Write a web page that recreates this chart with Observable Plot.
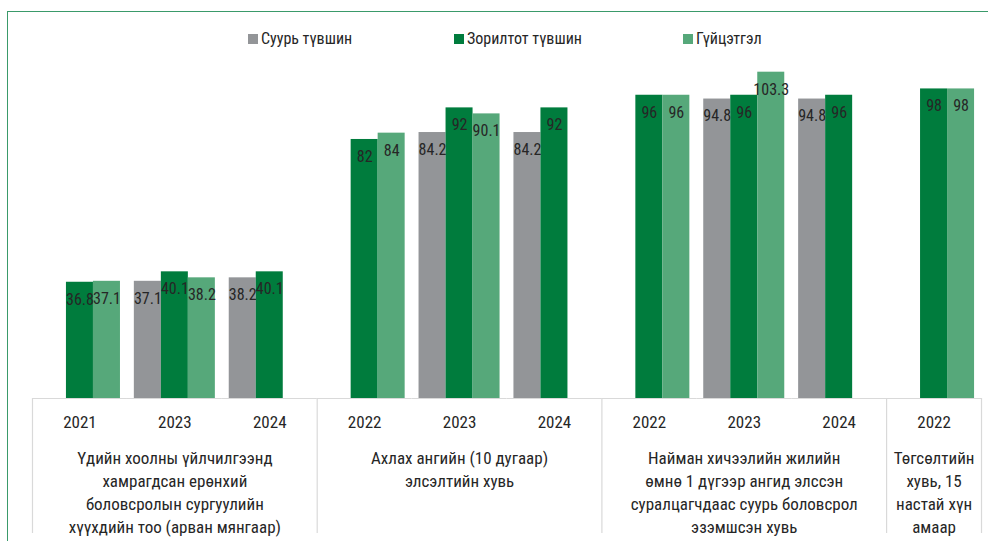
<!DOCTYPE html>
<html>
<head>
<meta charset="utf-8">
<script src="https://cdn.jsdelivr.net/npm/d3@7"></script>
<script src="https://cdn.jsdelivr.net/npm/@observablehq/plot@0.6"></script>
<style>
  html, body { margin: 0; padding: 0; background: #fff; overflow: hidden; }
  body { width: 988px; height: 541px; position: relative;
         font-family: 'Liberation Sans Narrow', 'Roboto Condensed', 'DejaVu Sans Condensed', sans-serif; color: #262626; }
  #frame { position: absolute; left: 7px; top: 11px; width: 1200px; height: 800px;
           border-top: 1.5px solid #3a9a6a; border-left: 1.5px solid #3a9a6a; pointer-events: none; }
  #legend { height: 60px; position: relative; font-size: 16px; }
  .item { position: absolute; top: 29px; display: flex; align-items: center; gap: 3px; white-space: nowrap; }
  .item:nth-child(1) { left: 248px; }
  .item:nth-child(2) { left: 454px; }
  .item:nth-child(3) { left: 683px; }
  .sw { width: 10px; height: 10px; display: inline-block; }
</style>
</head>
<body>
<div id="legend"></div>
<div id="chart"></div>
<div id="frame"></div>
<script>
// ---- data ----
const series = ["Суурь түвшин", "Зорилтот түвшин", "Гүйцэтгэл"];
const seriesColors = ["#939598", "#007c3d", "#56a87a"];
const slots = ["1-2021", "1-2023", "1-2024", "2-2022", "2-2023", "2-2024", "3-2022", "3-2023", "3-2024", "4-2022"];
const slotYears = ["2021", "2023", "2024", "2022", "2023", "2024", "2022", "2023", "2024", "2022"];
const baseValues = [null, 37.1, 38.2, null, 84.2, 84.2, null, 94.8, 94.8, null];
const targetValues = [36.8, 40.1, 40.1, 82, 92, 92, 96, 96, 96, 98];
const actualValues = [37.1, 38.2, null, 84, 90.1, null, 96, 103.3, null, 98];
const groupLabels = [
  "Үдийн хоолны үйлчилгээнд\nхамрагдсан ерөнхий\nболовсролын сургуулийн\nхүүхдийн тоо (арван мянгаар)",
  "Ахлах ангийн (10 дугаар)\nэлсэлтийн хувь",
  "Найман хичээлийн жилийн\nөмнө 1 дүгээр ангид элссэн\nсуралцагчдаас суурь боловсрол\nэзэмшсэн хувь",
  "Төгсөлтийн\nхувь, 15\nнастай хүн\nамаар"
];
const groupMidSlots = ["1-2023", "2-2023", "3-2023", "4-2022"];
const groupStartSlots = ["1-2021", "2-2022", "3-2022", "4-2022"];
const groupEndSlots = ["4-2022"];

// ---- build table ----
const valueArrays = [baseValues, targetValues, actualValues];
const rows = [];
slots.forEach((slot, i) => {
  series.forEach((s, j) => {
    const v = valueArrays[j][i];
    if (v != null) rows.push({slot, series: s, value: v});
  });
});
const yearOf = Object.fromEntries(slots.map((s, i) => [s, slotYears[i]]));
const groups = groupLabels.map((label, i) => ({label, slot: groupMidSlots[i]}));

// ---- legend ----
const legend = document.getElementById("legend");
series.forEach((s, i) => {
  const it = document.createElement("div");
  it.className = "item";
  it.innerHTML = `<span class="sw" style="background:${seriesColors[i]}"></span><span>${s}</span>`;
  legend.appendChild(it);
});

const font = "'Liberation Sans Narrow', 'Roboto Condensed', 'DejaVu Sans Condensed', sans-serif";
const chart = Plot.plot({
  width: 988,
  height: 481,
  marginTop: 0,
  marginLeft: 32,
  marginRight: 7,
  marginBottom: 143,
  style: {fontFamily: font, fontSize: "17px", color: "#262626", background: "transparent", overflow: "visible"},
  fx: {domain: slots, padding: 0, round: false, label: null, axis: "bottom", tickSize: 0, tickPadding: 17, tickFormat: k => yearOf[k]},
  x: {domain: series, paddingInner: 0, paddingOuter: 0.257, round: false, axis: null},
  y: {domain: [0, 107], axis: null},
  color: {domain: series, range: seriesColors},
  marks: [
    Plot.ruleY([0], {stroke: "#d9d9d9", strokeWidth: 1.2}),
    Plot.ruleX(groupStartSlots, {fx: d => d, x: () => series[0], y1: 0, y2: 0, dx: -20.45, insetBottom: -135, stroke: "#d9d9d9", strokeWidth: 1.2}),
    Plot.ruleX(groupEndSlots, {fx: d => d, x: () => series[2], y1: 0, y2: 0, dx: 20.45, insetBottom: -135, stroke: "#d9d9d9", strokeWidth: 1.2}),
    Plot.barY(rows, {fx: "slot", x: "series", y: "value", fill: "series"}),
    Plot.text(rows, {fx: "slot", x: "series", y: "value", text: d => String(d.value), lineAnchor: "top", dy: 11, fontSize: 16, fill: "#262626"}),
    Plot.text(groups, {fx: "slot", text: "label", frameAnchor: "bottom", lineAnchor: "top", dy: 48.5, lineHeight: 1.37, fontSize: 17, fill: "#262626"})
  ]
});
document.getElementById("chart").appendChild(chart);
</script>
</body>
</html>
